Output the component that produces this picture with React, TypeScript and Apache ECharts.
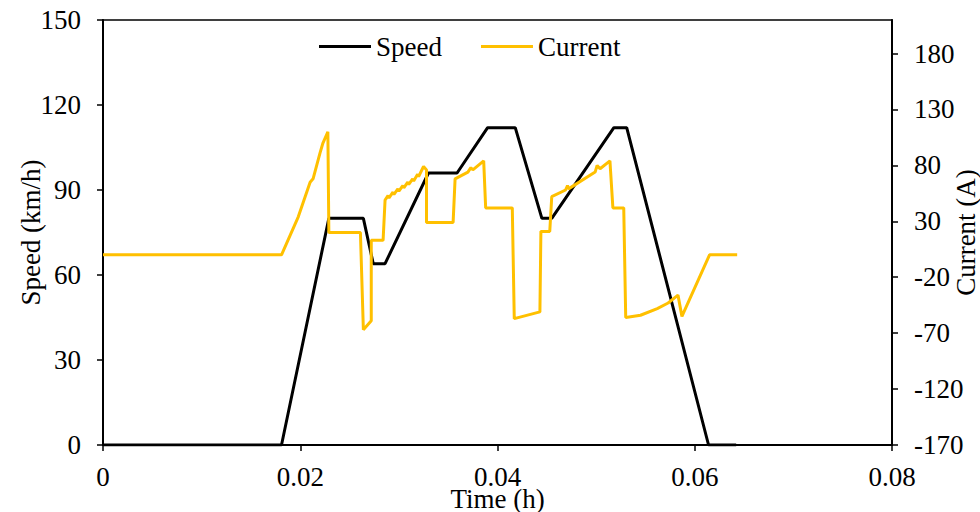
import React, { useEffect, useRef } from "react";
import * as echarts from "echarts";

const speedTime = [0, 0.0181, 0.0229, 0.0264, 0.0274, 0.0286, 0.033, 0.0359, 0.039, 0.0418, 0.0445, 0.0455, 0.0518, 0.0531, 0.0614, 0.0642];
const speedValues = [0, 0, 80, 80, 64, 64, 96, 96, 112, 112, 80, 80, 112, 112, 0, 0];

const currentTime = [
  0, 0.0181, 0.0198, 0.021, 0.0213, 0.022, 0.0223, 0.0228, 0.0229, 0.0261, 0.0264, 0.0272, 0.0272, 0.0284, 0.0286,
  0.0289, 0.029, 0.0294, 0.0295, 0.0299, 0.03, 0.0304, 0.0305, 0.0309, 0.031, 0.0314, 0.0315, 0.0319, 0.032, 0.0325,
  0.0328, 0.0328, 0.0355, 0.0357, 0.037, 0.0373, 0.0375, 0.0386, 0.0388, 0.0415, 0.0417, 0.0443, 0.0444, 0.0453, 0.0455,
  0.0469, 0.0471, 0.0472, 0.0499, 0.0501, 0.0504, 0.0514, 0.0517, 0.0528, 0.0530, 0.0545, 0.0562, 0.0573, 0.0583,
  0.0587, 0.0615, 0.0643,
];
const currentValues = [
  0, 0, 34, 65, 68, 91, 100, 110, 20, 20, -67, -59, 13, 13, 49,
  53, 51, 56, 54, 59, 57, 62, 60, 65, 63, 68, 66, 72, 70, 79,
  76, 29, 29, 68, 74, 78, 76, 84, 42, 42, -57, -51, 21, 21, 52,
  58, 62, 59, 74, 80, 77, 84, 42, 42, -56, -54, -48, -43, -36,
  -55, 0, 0,
];
const currentTicks = [-170, -120, -70, -20, 30, 80, 130, 180];

const FONT = "Liberation Serif";

export default function App() {
  const ref = useRef<HTMLDivElement>(null);
  useEffect(() => {
    if (!ref.current) return;
    const chart = echarts.init(ref.current, null, { renderer: "svg" });
    const speedData = speedTime.map((t, i) => [t, speedValues[i]]);
    const currentData = currentTime.map((t, i) => [t, currentValues[i]]);
    const axisText = { color: "#000", fontFamily: FONT, fontSize: 27 };
    chart.setOption({
      animation: false,
      textStyle: { fontFamily: FONT },
      grid: {
        left: 103,
        right: 88,
        top: 20,
        bottom: 67,
        show: true,
        borderColor: "#000",
        borderWidth: 1.5,
        outerBoundsMode: "none",
        containLabel: false,
      },
      legend: {
        left: 314,
        top: 28,
        itemWidth: 52,
        itemHeight: 3,
        itemGap: 39,
        icon: "rect",
        textStyle: { color: "#000", fontFamily: FONT, fontSize: 27 },
        data: ["Speed", "Current"],
      },
      xAxis: {
        type: "value",
        min: 0,
        max: 0.08,
        interval: 0.02,
        name: "Time (h)",
        nameLocation: "middle",
        nameGap: 40,
        nameMoveOverlap: false,
        nameTextStyle: axisText,
        axisLine: { lineStyle: { color: "#000", width: 2 } },
        axisTick: { inside: false, length: 6, lineStyle: { color: "#000", width: 1.5 } },
        axisLabel: { ...axisText, margin: 18 },
        splitLine: { show: false },
      },
      yAxis: [
        {
          type: "value",
          min: 0,
          max: 150,
          interval: 30,
          name: "Speed (km/h)",
          nameLocation: "middle",
          nameGap: 59,
          nameMoveOverlap: false,
          nameTextStyle: axisText,
          axisLine: { show: true, lineStyle: { color: "#000", width: 2 } },
          axisTick: { show: true, length: 6, lineStyle: { color: "#000", width: 1.5 } },
          axisLabel: { ...axisText, margin: 22 },
          splitLine: { show: false },
        },
        {
          type: "value",
          position: "right",
          min: -170,
          max: 210,
          interval: 50,
          name: "Current (A)",
          nameLocation: "middle",
          nameRotate: 90,
          nameGap: 60,
          nameMoveOverlap: false,
          nameTextStyle: axisText,
          axisLine: { show: true, lineStyle: { color: "#000", width: 2 } },
          axisTick: { show: true, length: 6, customValues: currentTicks, lineStyle: { color: "#000", width: 1.5 } },
          axisLabel: { ...axisText, margin: 22, customValues: currentTicks },
          splitLine: { show: false },
        },
      ],
      series: [
        {
          name: "Speed",
          type: "line",
          data: speedData,
          showSymbol: false,
          color: "#000000",
          lineStyle: { color: "#000000", width: 3 },
        },
        {
          name: "Current",
          type: "line",
          yAxisIndex: 1,
          data: currentData,
          showSymbol: false,
          color: "#FFC000",
          lineStyle: { color: "#FFC000", width: 3 },
        },
      ],
    });
    return () => chart.dispose();
  }, []);
  return <div ref={ref} style={{ width: 980, height: 512, position: "absolute", left: 0, top: 0 }} />;
}
